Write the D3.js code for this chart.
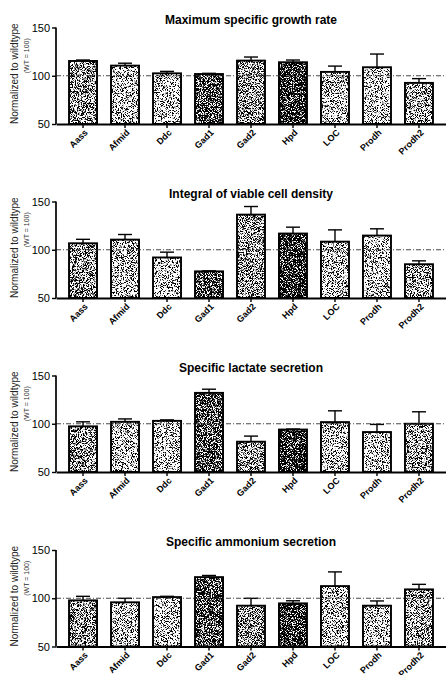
<!DOCTYPE html>
<html>
<head>
<meta charset="utf-8">
<script src="https://cdn.jsdelivr.net/npm/d3@7"></script>
<style>
  body { margin: 0; background: #fff; }
  svg { display: block; font-family: "Liberation Sans", Arial, sans-serif; }
</style>
</head>
<body>
<svg id="chart" width="446" height="675"></svg>
<script>
// genes on the x axis
const genes = ["Aass", "Afmid", "Ddc", "Gad1", "Gad2", "Hpd", "LOC", "Prodh", "Prodh2"];
const yTicks = [50, 100, 150];

// values normalized to wildtype (WT = 100), plus upper SD
const growthRate   = [115.3, 110.5, 102.5, 101.8, 115.7, 114.0, 104.0, 108.8, 92.6];
const growthRateSD = [1.0, 2.5, 2.0, 0.7, 3.7, 2.3, 6.0, 13.7, 4.4];
const ivcd         = [106.7, 110.5, 92.0, 77.6, 136.4, 116.8, 108.4, 114.7, 85.0];
const ivcdSD       = [4.1, 5.3, 5.5, 0.5, 8.4, 6.6, 12.2, 7.0, 3.5];
const lactate      = [97.3, 102.0, 103.0, 132.0, 81.4, 94.0, 101.7, 91.4, 100.0];
const lactateSD    = [4.7, 3.0, 1.0, 3.8, 5.8, 0.5, 11.7, 7.9, 12.4];
const ammonium     = [97.8, 95.8, 101.2, 121.9, 92.3, 94.7, 112.6, 92.3, 109.2];
const ammoniumSD   = [4.2, 4.1, 0.8, 1.7, 7.6, 2.7, 14.7, 4.9, 5.2];

// how dark the stipple fill of each gene is
const stipple = [0.45, 0.35, 0.33, 0.6, 0.45, 0.7, 0.35, 0.33, 0.42];

const panels = [
  { title: "Maximum specific growth rate", values: growthRate, sd: growthRateSD, top: 27.5 },
  { title: "Integral of viable cell density", values: ivcd, sd: ivcdSD, top: 201.5 },
  { title: "Specific lactate secretion", values: lactate, sd: lactateSD, top: 375.5 },
  { title: "Specific ammonium secretion", values: ammonium, sd: ammoniumSD, top: 550 }
];

const svg = d3.select("#chart");
const left = 56, right = 446, plotH = 96.5;

const x = d3.scaleBand()
  .domain(genes)
  .range([left, right])
  .paddingInner(1 / 3)
  .paddingOuter(0.31);

// noise filters for the stippled bars
const defs = svg.append("defs");
genes.forEach((g, i) => {
  const t = 0.5 + (stipple[i] - 0.5) * 0.4;
  const k = 9;
  const f = defs.append("filter")
    .attr("id", "noise" + i)
    .attr("x", 0).attr("y", 0).attr("width", 1).attr("height", 1);
  f.append("feTurbulence")
    .attr("type", "fractalNoise")
    .attr("baseFrequency", 1.2)
    .attr("numOctaves", 3)
    .attr("seed", i + 3)
    .attr("result", "n");
  f.append("feColorMatrix")
    .attr("in", "n")
    .attr("type", "matrix")
    .attr("values", `0 0 0 0 0  0 0 0 0 0  0 0 0 0 0  ${-k} 0 0 0 ${k * t + 0.5}`);
});

panels.forEach(p => {
  const y = d3.scaleLinear().domain([50, 150]).range([p.top + plotH, p.top]);
  const g = svg.append("g");
  const base = y(50);

  g.append("text")
    .attr("x", (left + right) / 2)
    .attr("y", p.top - 4)
    .attr("text-anchor", "middle")
    .style("font-size", "12px")
    .style("font-weight", "bold")
    .text(p.title);

  // y label
  g.append("text")
    .attr("transform", `translate(18, ${p.top + plotH / 2 - 2}) rotate(-90)`)
    .attr("text-anchor", "middle")
    .style("font-size", "10px")
    .style("fill", "#222")
    .text("Normalized to wildtype");
  g.append("text")
    .attr("transform", `translate(29, ${p.top + plotH / 2 - 20}) rotate(-90)`)
    .attr("text-anchor", "middle")
    .style("font-size", "7px")
    .style("fill", "#333")
    .text("(WT = 100)");

  // bars
  const bars = g.selectAll(".bar").data(genes).enter().append("g");
  bars.append("rect")
    .attr("x", d => x(d))
    .attr("y", (d, i) => y(p.values[i]))
    .attr("width", x.bandwidth())
    .attr("height", (d, i) => base - y(p.values[i]))
    .attr("fill", "#fff");
  bars.append("rect")
    .attr("x", d => x(d))
    .attr("y", (d, i) => y(p.values[i]))
    .attr("width", x.bandwidth())
    .attr("height", (d, i) => base - y(p.values[i]))
    .attr("fill", "#000")
    .attr("filter", (d, i) => `url(#noise${i})`);
  bars.append("rect")
    .attr("x", d => x(d))
    .attr("y", (d, i) => y(p.values[i]))
    .attr("width", x.bandwidth())
    .attr("height", (d, i) => base - y(p.values[i]))
    .attr("fill", "none")
    .attr("stroke", "#000")
    .attr("stroke-width", 1.9);

  // upper error bars
  bars.append("line")
    .attr("x1", d => x(d) + x.bandwidth() / 2)
    .attr("x2", d => x(d) + x.bandwidth() / 2)
    .attr("y1", (d, i) => y(p.values[i]))
    .attr("y2", (d, i) => y(p.values[i] + p.sd[i]))
    .attr("stroke", "#000").attr("stroke-width", 1.4);
  bars.append("line")
    .attr("x1", d => x(d) + x.bandwidth() / 4)
    .attr("x2", d => x(d) + x.bandwidth() * 3 / 4)
    .attr("y1", (d, i) => y(p.values[i] + p.sd[i]))
    .attr("y2", (d, i) => y(p.values[i] + p.sd[i]))
    .attr("stroke", "#000").attr("stroke-width", 1.4);

  // WT reference line
  g.append("line")
    .attr("x1", left).attr("x2", right)
    .attr("y1", y(100)).attr("y2", y(100))
    .attr("stroke", "#333")
    .attr("stroke-width", 0.9)
    .attr("stroke-dasharray", "5,2,1,2");

  // axes
  const yAxis = g.append("g")
    .attr("transform", `translate(${left},0)`)
    .call(d3.axisLeft(y).tickValues(yTicks).tickSize(4).tickPadding(2));
  yAxis.select(".domain").attr("stroke-width", 1.7).attr("d", `M0,${p.top}V${base}`);
  yAxis.selectAll(".tick line").attr("stroke-width", 1.4);
  yAxis.selectAll("text").style("font-size", "11px");

  const xAxis = g.append("g")
    .attr("transform", `translate(0,${base})`)
    .call(d3.axisBottom(x).tickSize(4).tickSizeOuter(0));
  xAxis.select(".domain").attr("stroke-width", 1.9);
  xAxis.selectAll(".tick line").attr("stroke-width", 1.4);
  xAxis.selectAll(".tick text").remove();
  // rotated gene labels
  xAxis.selectAll(".tick").append("g")
    .attr("transform", "translate(3,7) rotate(-45)")
    .append("text")
    .attr("text-anchor", "end")
    .attr("dy", "0.35em")
    .attr("fill", "#000")
    .style("font-size", "9px")
    .style("font-weight", "bold")
    .text(d => d);
});
</script>
</body>
</html>
